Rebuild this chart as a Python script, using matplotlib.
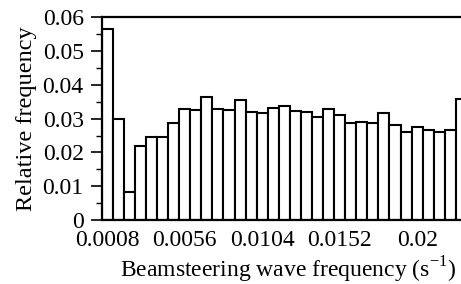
import numpy as np
import matplotlib
matplotlib.use('Agg')
import matplotlib.pyplot as plt

# 相对频率（每个条形一个值）
rel_freq = [0.0566, 0.0298, 0.0084, 0.0220, 0.0247, 0.0247, 0.0288, 0.0328,
            0.0326, 0.0365, 0.0328, 0.0326, 0.0356, 0.0321, 0.0316, 0.0333,
            0.0338, 0.0324, 0.0319, 0.0304, 0.0328, 0.0311, 0.0288, 0.0291,
            0.0288, 0.0316, 0.0281, 0.0262, 0.0275, 0.0267, 0.0260, 0.0267,
            0.0358]
tick_bins = [0, 7, 14, 21, 28]
tick_labels = ['0.0008', '0.0056', '0.0104', '0.0152', '0.02']
y_ticks = [0, 0.01, 0.02, 0.03, 0.04, 0.05, 0.06]
y_labels = ['0', '0.01', '0.02', '0.03', '0.04', '0.05', '0.06']

plt.rcParams['font.family'] = ['Liberation Serif', 'DejaVu Serif']
plt.rcParams['mathtext.fontset'] = 'custom'
plt.rcParams['mathtext.rm'] = 'Liberation Serif'

fig = plt.figure(figsize=(4.61, 2.84), dpi=100)
ax = fig.add_axes([0.2206, 0.2254, 0.7794, 0.713])

x = np.arange(len(rel_freq))
ax.bar(x, rel_freq, width=1.0, color='white', edgecolor='black', linewidth=1.5)

ax.set_xlim(-0.5, 31.96)
ax.set_ylim(0, 0.06)
ax.set_xticks(tick_bins)
ax.set_xticklabels(tick_labels, fontsize=17)
ax.set_yticks(y_ticks)
ax.set_yticklabels(y_labels, fontsize=17)
ax.set_yticks(np.arange(0.005, 0.06, 0.01), minor=True)
ax.tick_params(axis='x', length=0, pad=7)
ax.tick_params(axis='y', which='major', length=8, width=1.2, direction='out', pad=5)
ax.tick_params(axis='y', which='minor', length=4, width=1.0, direction='out')

ax.spines['right'].set_visible(False)
for s in ['left', 'bottom', 'top']:
    ax.spines[s].set_linewidth(1.6)

ax.set_ylabel('Relative frequency', fontsize=17.5, labelpad=4)
ax.set_xlabel(r'Beamsteering wave frequency (s$^{\mathregular{-1}}$)', fontsize=17)
ax.xaxis.set_label_coords(0.52, -0.17)

fig.savefig('out.png', dpi=100)
